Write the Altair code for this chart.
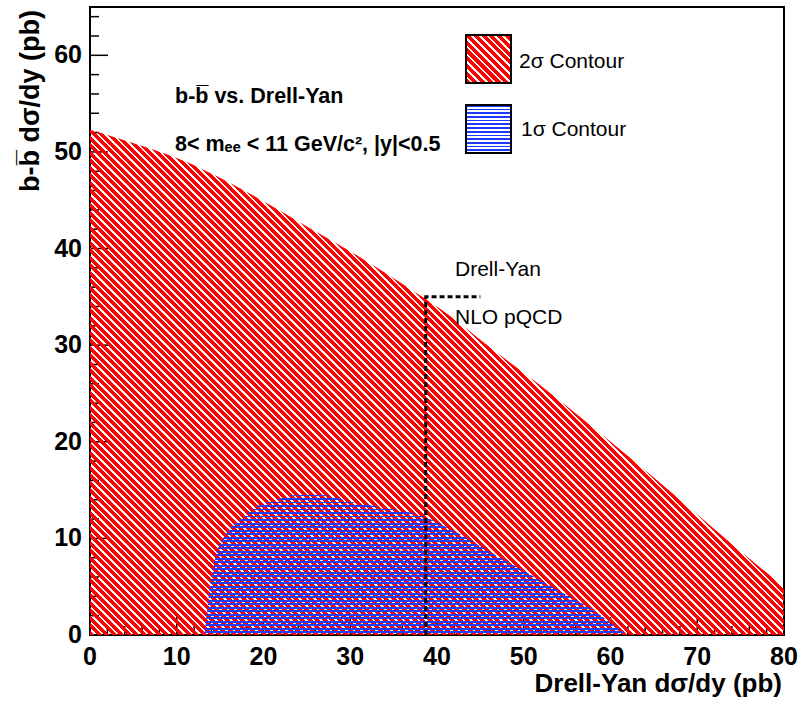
import altair as alt
import pandas as pd

# ---------------- data ----------------
x_domain = [0, 80]
y_domain = [0, 65]

# 2 sigma contour (upper edge, filled down to 0)
red_x = [0, 3.3, 7.1, 11.0, 14.8, 18.6, 22.5, 26.3, 30.2, 34.0, 37.8, 41.7, 45.5, 53.4, 61.1, 68.8, 76.4, 80]
red_y = [52.3, 51.4, 50.3, 49.0, 47.4, 45.6, 43.6, 41.6, 39.6, 37.5, 35.3, 32.9, 30.2, 24.8, 19.2, 13.4, 7.6, 5.0]

# 1 sigma contour
blue_x = [13.2, 13.8, 14.4, 15.8, 17.3, 19.2, 21.5, 23.8, 26.8, 30.0, 33.8, 38.4, 42.3, 46.1, 49.9, 53.8, 57.6, 61.9]
blue_y = [0, 4.7, 7.8, 10.6, 11.9, 13.3, 14.0, 14.5, 14.5, 13.8, 13.2, 12.3, 10.6, 8.6, 6.7, 4.7, 2.8, 0]

# Drell-Yan NLO pQCD marker (dashed)
dy_x = [38.7, 38.7, 45.0]
dy_y = [0, 35.0, 35.0]

y_major = [0, 10, 20, 30, 40, 50, 60]
y_minor = [v for v in range(0, 66, 2) if v % 10]
x_major = [0, 10, 20, 30, 40, 50, 60, 70, 80]
x_minor = [v for v in range(0, 81, 2) if v % 10]

x_title = "Drell-Yan d\u03c3/dy (pb)"
y_title = "b-b\u0305 d\u03c3/dy (pb)"
note1 = "b-b\u0305 vs. Drell-Yan"
note2 = "8< m\u2091\u2091 < 11 GeV/c\u00b2, |y|<0.5"
dy_label1 = "Drell-Yan"
dy_label2 = "NLO pQCD"
legend_labels = ["2\u03c3 Contour", "1\u03c3 Contour"]

# ---------------- layout / style ----------------
W, H = 694, 628
FONT = "Liberation Sans"
RED = "#ff0000"
BLUE = "#1e3cff"
CLEAR = "rgba(255,255,255,0)"

xs = alt.Scale(domain=x_domain, nice=False, zero=False)
ys = alt.Scale(domain=y_domain, nice=False, zero=False)
px_x = W / (x_domain[1] - x_domain[0])
px_y = H / (y_domain[1] - y_domain[0])


def stripe_stops(n, frac, color):
    stops = []
    for i in range(n):
        a, b, c = i / n, (i + frac) / n, (i + 1) / n
        stops += [(a, color), (b, color), (b, CLEAR), (c, CLEAR)]
    return [alt.GradientStop(offset=round(o, 6), color=col) for o, col in stops]


def diag_gradient(wpx, hpx, period, frac, color):
    s = (wpx + hpx) / (wpx ** 2 + hpx ** 2)
    n = max(1, int(round((wpx + hpx) / period)))
    return alt.LinearGradient(gradient="linear", x1=0, y1=1, x2=s * wpx, y2=1 - s * hpx,
                              stops=stripe_stops(n, frac, color))


def horiz_gradient(hpx, period, frac, color):
    n = max(1, int(round(hpx / period)))
    return alt.LinearGradient(gradient="linear", x1=0, y1=0, x2=0, y2=1,
                              stops=stripe_stops(n, frac, color))


red_w = (max(red_x) - min(red_x)) * px_x
red_h = max(red_y) * px_y
blue_h = max(blue_y) * px_y

red_fill = diag_gradient(red_w, red_h, 7.5, 0.66, RED)
blue_fill = horiz_gradient(blue_h, 3.5, 0.45, BLUE)

red_df = pd.DataFrame({"x": red_x, "y": red_y})
blue_df = pd.DataFrame({"x": blue_x, "y": blue_y})
dy_df = pd.DataFrame({"x": dy_x, "y": dy_y, "o": list(range(len(dy_x)))})


# ticks drawn inward (ROOT style)
def yticks(vals, length):
    return alt.Chart(pd.DataFrame({"v": vals})).mark_rule(color="black", strokeWidth=1.5).encode(
        y=alt.Y("v:Q", scale=ys, axis=None), x=alt.value(0), x2=alt.value(length))


def xticks(vals, length):
    return alt.Chart(pd.DataFrame({"v": vals})).mark_rule(color="black", strokeWidth=1.5).encode(
        x=alt.X("v:Q", scale=xs, axis=None), y=alt.value(H), y2=alt.value(H - length))


# tick labels placed through the scales
ylabels = alt.Chart(pd.DataFrame({"v": y_major})).mark_text(
    align="right", baseline="middle", font=FONT, fontSize=25, fontWeight="bold", color="black"
).encode(y=alt.Y("v:Q", scale=ys, axis=None), x=alt.value(-8), text=alt.Text("v:Q", format="d"))

xlabels = alt.Chart(pd.DataFrame({"v": x_major})).mark_text(
    align="center", baseline="top", font=FONT, fontSize=25, fontWeight="bold", color="black"
).encode(x=alt.X("v:Q", scale=xs, axis=None), y=alt.value(H + 10), text=alt.Text("v:Q", format="d"))

ytitle = alt.Chart(pd.DataFrame({"t": [y_title]})).mark_text(
    align="right", baseline="middle", angle=270, font=FONT, fontSize=27, fontWeight="bold", color="black"
).encode(text="t:N", x=alt.value(-59), y=alt.value(3))

xtitle = alt.Chart(pd.DataFrame({"t": [x_title]})).mark_text(
    align="right", baseline="alphabetic", font=FONT, fontSize=26, fontWeight="bold", color="black"
).encode(text="t:N", x=alt.value(W - 2), y=alt.value(H + 57))

red = alt.Chart(red_df).mark_area(fill=red_fill, opacity=1, interpolate="monotone").encode(
    x=alt.X("x:Q", scale=xs, axis=None),
    y=alt.Y("y:Q", scale=ys, axis=None),
    y2=alt.datum(0),
)

blue = alt.Chart(blue_df).mark_area(fill=blue_fill, opacity=1, interpolate="monotone").encode(
    x=alt.X("x:Q", scale=xs, axis=None),
    y=alt.Y("y:Q", scale=ys, axis=None),
    y2=alt.datum(0),
)

dashed = alt.Chart(dy_df).mark_line(color="black", strokeWidth=3, strokeDash=[5, 3]).encode(
    x=alt.X("x:Q", scale=xs, axis=None),
    y=alt.Y("y:Q", scale=ys, axis=None),
    order="o:Q",
)


def label(text, x, y, size, weight="normal"):
    return alt.Chart(pd.DataFrame({"t": [text]})).mark_text(
        align="left", baseline="middle", font=FONT, fontSize=size, fontWeight=weight, color="black"
    ).encode(text="t:N", x=alt.value(x), y=alt.value(y))


def box(x0, x1, y0, y1, fill):
    return alt.Chart(pd.DataFrame({"k": [0]})).mark_rect(
        fill=fill, stroke="black", strokeWidth=2, opacity=1
    ).encode(x=alt.value(x0), x2=alt.value(x1), y=alt.value(y0), y2=alt.value(y1))


leg_red = box(376, 421, 28, 76, diag_gradient(45, 48, 7.5, 0.66, RED))
leg_blue = box(376, 421, 98, 146, horiz_gradient(48, 3.6, 0.45, BLUE))

chart = alt.layer(
    yticks(y_minor, 9), yticks(y_major, 18), xticks(x_minor, 9), xticks(x_major, 18),
    red, blue, dashed,
    ylabels, xlabels, ytitle, xtitle,
    label(note1, 85, 90, 21.5, "bold"),
    label(note2, 85, 138, 21.5, "bold"),
    label(dy_label1, 365, 263, 21),
    label(dy_label2, 365, 311, 21),
    leg_red, leg_blue,
    label(legend_labels[0], 429, 55, 21),
    label(legend_labels[1], 431, 123, 21),
).properties(
    width=W, height=H,
    autosize=alt.AutoSizeParams(type="none"),
    padding={"left": 90, "top": 7, "right": 18, "bottom": 68},
).configure_view(
    stroke="black", strokeWidth=2
)

chart.save("out.html", embed_options={"renderer": "svg", "actions": False})
